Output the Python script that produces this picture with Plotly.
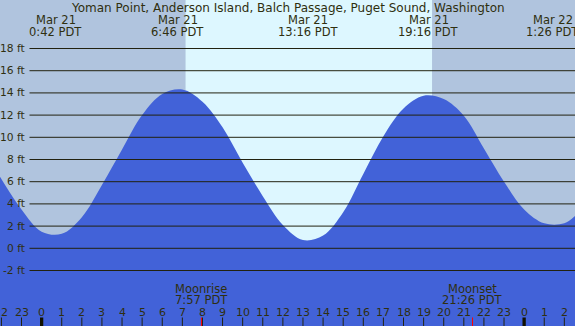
import plotly.graph_objects as go

# ---- data (hours relative to Mar 21 00:00 PDT) ----
tide_hours = [-2.07, -1, 0, 1, 2, 3, 4, 5, 6, 7, 8, 9, 10, 11, 12, 13, 14,
              15, 16, 17, 18, 19, 20, 21, 22, 23, 24, 25, 26, 26.53]
tide_ft = [6.45, 3.5, 1.5, 1.3, 2.8, 5.7, 8.9, 12.0, 13.9, 14.3, 13.2, 10.9,
           7.7, 4.7, 2.1, 0.75, 1.15, 3.25, 6.7, 10.1, 12.6, 13.75, 13.45,
           11.95, 9.0, 6.0, 3.5, 2.25, 2.25, 2.9]

extreme_hours = [0.7, 6.767, 13.267, 19.267, 25.433]
extreme_dates = ["Mar 21", "Mar 21", "Mar 21", "Mar 21", "Mar 22"]
extreme_times = ["0:42 PDT", "6:46 PDT", "13:16 PDT", "19:16 PDT", "1:26 PDT"]

sunrise_h = 7.16
sunset_h = 19.42

moon_hours = [7.95, 21.433]
moon_events = ["Moonrise", "Moonset"]
moon_times = ["7:57 PDT", "21:26 PDT"]

ytick_vals = [-2, 0, 2, 4, 6, 8, 10, 12, 14, 16, 18]
ytick_text = ["-2 ft", "0 ft", "2 ft", "4 ft", "6 ft", "8 ft", "10 ft", "12 ft",
              "14 ft", "16 ft", "18 ft"]

hour_ticks = list(range(-2, 27))
hour_labels = [str(h % 24) for h in hour_ticks]

title = "Yoman Point, Anderson Island, Balch Passage, Puget Sound, Washington"

# ---- styling ----
W, H = 575, 326
x_range = [-2.07, 26.53]
y_range = [-7.0, 22.37]
night = "#B0C4DE"
day = "#DDF7FF"
water = "#4262D8"
ink = "#2f2f0f"
font = "DejaVu Sans"

fig = go.Figure()
fig.add_trace(go.Scatter(x=tide_hours, y=[y_range[0]] * len(tide_hours),
                         mode="lines", line=dict(width=0), hoverinfo="skip",
                         showlegend=False))
fig.add_trace(go.Scatter(x=tide_hours, y=tide_ft, mode="lines",
                         line=dict(width=0, shape="spline", smoothing=1.0),
                         fill="tonexty", fillcolor=water, showlegend=False))

shapes = []
# daylight band
shapes.append(dict(type="rect", xref="x", yref="paper", x0=sunrise_h, x1=sunset_h,
                   y0=0, y1=1, fillcolor=day, line=dict(width=0), layer="below"))
# grid lines
for v in ytick_vals:
    shapes.append(dict(type="line", xref="paper", yref="y", x0=29.5 / W, x1=1,
                       y0=v, y1=v, line=dict(color="#222210", width=1), layer="above"))
# hour ticks
for h in hour_ticks:
    midnight = (h % 24 == 0)
    shapes.append(dict(type="line", xref="x", yref="paper", x0=h, x1=h,
                       y0=0, y1=8.5 / H,
                       line=dict(color="#111100" if midnight else "#222210",
                                 width=3.3 if midnight else 1), layer="above"))
for h in moon_hours:
    shapes.append(dict(type="line", xref="x", yref="paper", x0=h, x1=h,
                       y0=0, y1=8.5 / H, line=dict(color="#ff0000", width=1),
                       layer="above"))

def f(size):
    return dict(family=font, size=size, color=ink)

ann = []
ann.append(dict(text=title, xref="paper", yref="paper", x=0.5, y=1 - 8 / H,
                showarrow=False, font=f(12), xanchor="center", yanchor="middle"))
for h, d, t in zip(extreme_hours, extreme_dates, extreme_times):
    ann.append(dict(text=d, xref="x", yref="paper", x=h, y=1 - 20 / H,
                    showarrow=False, font=f(11.5), xanchor="center", yanchor="middle"))
    ann.append(dict(text=t, xref="x", yref="paper", x=h, y=1 - 32 / H,
                    showarrow=False, font=f(11.5), xanchor="center", yanchor="middle"))
for v, t in zip(ytick_vals, ytick_text):
    ann.append(dict(text=t, xref="paper", yref="y", x=26.5 / W, y=v,
                    showarrow=False, font=f(10.7), xanchor="right", yanchor="middle"))
for h, e, t in zip(moon_hours, moon_events, moon_times):
    ann.append(dict(text=e, xref="x", yref="paper", x=h, y=1 - 288.5 / H,
                    showarrow=False, font=f(11.5), xanchor="center", yanchor="middle"))
    ann.append(dict(text=t, xref="x", yref="paper", x=h, y=1 - 300 / H,
                    showarrow=False, font=f(11.5), xanchor="center", yanchor="middle"))
for h, t in zip(hour_ticks, hour_labels):
    ann.append(dict(text=t, xref="x", yref="paper", x=h, y=1 - 312.5 / H,
                    showarrow=False, font=f(11), xanchor="center", yanchor="middle"))

fig.update_layout(
    width=W, height=H, margin=dict(l=0, r=0, t=0, b=0),
    paper_bgcolor=night, plot_bgcolor=night,
    xaxis=dict(range=x_range, visible=False, fixedrange=True),
    yaxis=dict(range=y_range, visible=False, fixedrange=True),
    shapes=shapes, annotations=ann, showlegend=False,
)
fig.write_html("out.html", config={"displayModeBar": False},
               post_script="document.body.style.margin='0';"
                           "document.body.style.overflow='hidden';")
